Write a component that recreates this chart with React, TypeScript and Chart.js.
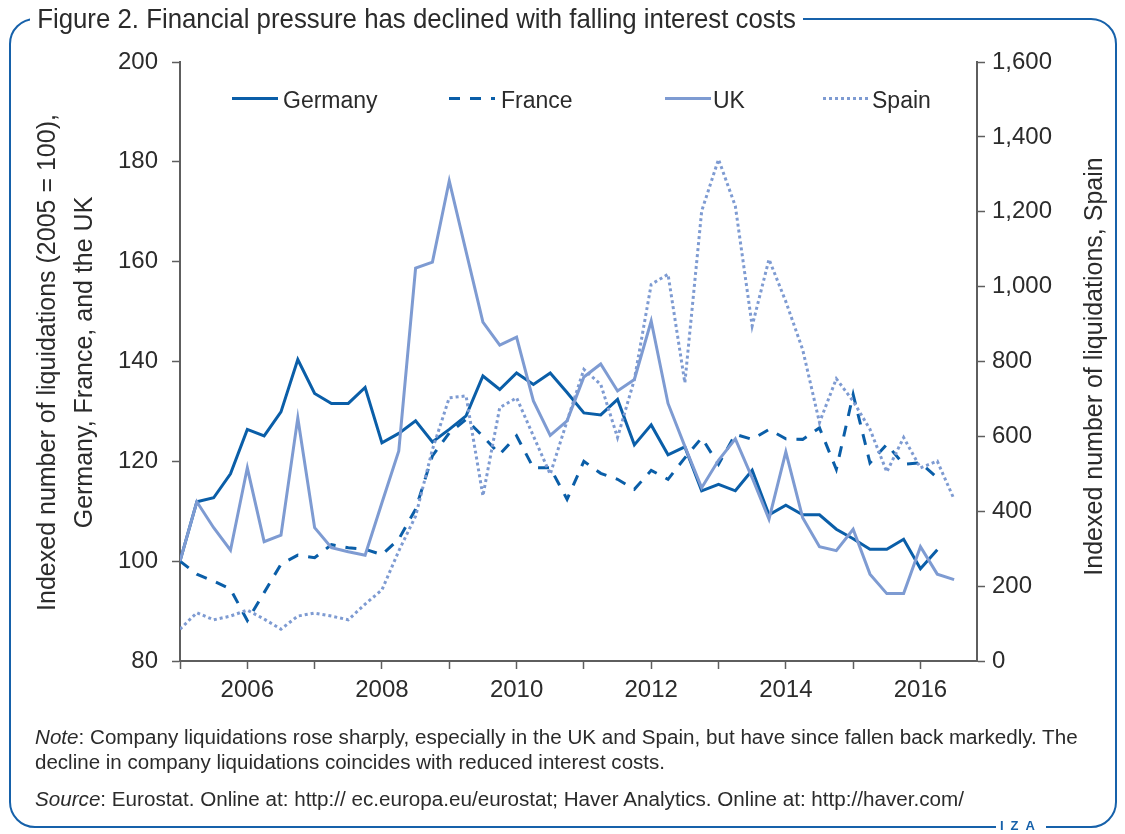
import React, { useEffect, useRef } from "react";
import { Chart, registerables } from "chart.js";
Chart.register(...registerables);

// ---------- data ----------
const quarters = [
  "2005Q1", "2005Q2", "2005Q3", "2005Q4",
  "2006Q1", "2006Q2", "2006Q3", "2006Q4",
  "2007Q1", "2007Q2", "2007Q3", "2007Q4",
  "2008Q1", "2008Q2", "2008Q3", "2008Q4",
  "2009Q1", "2009Q2", "2009Q3", "2009Q4",
  "2010Q1", "2010Q2", "2010Q3", "2010Q4",
  "2011Q1", "2011Q2", "2011Q3", "2011Q4",
  "2012Q1", "2012Q2", "2012Q3", "2012Q4",
  "2013Q1", "2013Q2", "2013Q3", "2013Q4",
  "2014Q1", "2014Q2", "2014Q3", "2014Q4",
  "2015Q1", "2015Q2", "2015Q3", "2015Q4",
  "2016Q1", "2016Q2", "2016Q3",
];

const germany = [
  100, 111.9, 112.7, 117.5, 126.4, 125.1, 129.9, 140.4, 133.6, 131.6, 131.6, 134.8,
  123.7, 125.6, 128.1, 123.9, 126.4, 129.1, 137.1, 134.4, 137.7, 135.4, 137.7, 133.8,
  129.7, 129.3, 132.4, 123.3, 127.3, 121.3, 122.9, 114.1, 115.4, 114.1, 118.2, 109.3,
  111.2, 109.3, 109.3, 106.4, 104.5, 102.4, 102.4, 104.4, 98.5, 102.3,
];

const france = [
  100, 97.4, 96.0, 94.4, 88.1, 93.7, 99.4, 101.2, 100.7, 103.3, 102.7, 102.4,
  101.3, 104.4, 110.4, 121.1, 125.7, 128.4, 125.0, 121.4, 125.1, 118.7, 118.7, 112.4,
  120.0, 117.6, 116.4, 114.4, 118.2, 116.4, 120.7, 124.7, 119.4, 125.4, 124.4, 126.4,
  124.5, 124.4, 126.7, 118.4, 133.4, 119.7, 123.4, 119.4, 119.7, 116.7,
];

const uk = [
  100, 111.9, 106.7, 102.2, 118.7, 103.9, 105.2, 128.7, 106.7, 102.7, 101.9, 101.2,
  111.7, 122.1, 158.7, 159.9, 176.2, 162.0, 147.9, 143.3, 144.9, 132.1, 125.2, 128.1,
  136.9, 139.5, 134.1, 136.4, 148.1, 131.6, 123.0, 114.7, 120.2, 124.5, 116.7, 108.4,
  121.9, 108.7, 102.9, 102.1, 106.4, 97.4, 93.5, 93.5, 102.9, 97.4, 96.3,
];

const spain = [
  85, 129, 110, 120, 136, 112, 85, 120, 128, 120, 110, 152,
  190, 294, 387, 565, 703, 708, 441, 677, 703, 601, 499, 641,
  779, 739, 597, 752, 1006, 1033, 743, 1202, 1340, 1215, 895, 1073,
  960, 832, 637, 754, 694, 619, 505, 597, 516, 534, 432,
];

const seriesLabels = ["Germany", "France", "UK", "Spain"];
const xRange = [2005, 2016.84];
const leftRange = [80, 200, 20];
const rightRange = [0, 1600, 200];
const xLabelYears = [2006, 2008, 2010, 2012, 2014, 2016];

const titleText = "Figure 2. Financial pressure has declined with falling interest costs";
const leftTitle = ["Indexed number of liquidations (2005 = 100),", "Germany, France, and the UK"];
const rightTitle = "Indexed number of liquidations, Spain";
const noteLine1 = "Company liquidations rose sharply, especially in the UK and Spain, but have since fallen back markedly. The";
const noteLine2 = "decline in company liquidations coincides with reduced interest costs.";
const sourceText = "Eurostat. Online at: http:// ec.europa.eu/eurostat; Haver Analytics. Online at: http://haver.com/";

// ---------- style ----------
const DARK = "#0a5ea8";
const LIGHT = "#7e9bd2";
const FRAME = "#1661aa";
const AXIS = "#5e5e5e";
const TEXT = "#2b2b2b";
const FONT = "'Liberation Sans', Arial, sans-serif";

const qx = (q: string) => parseInt(q.slice(0, 4), 10) + (parseInt(q.slice(5), 10) - 1) / 4;
const toPoints = (vals: number[]) => vals.map((v, i) => ({ x: qx(quarters[i]), y: v }));

const legendPos = [
  { x0: 232, x1: 278, tx: 283 },
  { x0: 449, x1: 495, tx: 501 },
  { x0: 665, x1: 711, tx: 713 },
  { x0: 823, x1: 869, tx: 872 },
];

const overlayPlugin = {
  id: "overlay",
  afterDraw(chart: any) {
    const ctx = chart.ctx as CanvasRenderingContext2D;
    // legend
    chart.data.datasets.forEach((ds: any, i: number) => {
      const p = legendPos[i];
      ctx.save();
      ctx.strokeStyle = ds.borderColor;
      ctx.lineWidth = 3;
      ctx.setLineDash(ds.borderDash || []);
      ctx.beginPath();
      ctx.moveTo(p.x0, 98.5);
      ctx.lineTo(p.x1, 98.5);
      ctx.stroke();
      ctx.setLineDash([]);
      ctx.fillStyle = TEXT;
      ctx.font = `23px ${FONT}`;
      ctx.textBaseline = "alphabetic";
      ctx.textAlign = "left";
      ctx.fillText(ds.label, p.tx, 107.5);
      ctx.restore();
    });
    // axis titles
    const area = chart.chartArea;
    const cy = (area.top + area.bottom) / 2;
    ctx.save();
    ctx.fillStyle = TEXT;
    ctx.font = `25px ${FONT}`;
    ctx.textAlign = "center";
    ctx.textBaseline = "middle";
    ctx.translate(48, cy + 1);
    ctx.rotate(-Math.PI / 2);
    ctx.fillText(leftTitle[0], 0, 0);
    ctx.fillText(leftTitle[1], 0, 37);
    ctx.restore();
    ctx.save();
    ctx.fillStyle = TEXT;
    ctx.font = `25px ${FONT}`;
    ctx.textAlign = "center";
    ctx.textBaseline = "middle";
    ctx.translate(1095, cy + 5);
    ctx.rotate(-Math.PI / 2);
    ctx.fillText(rightTitle, 0, 0);
    ctx.restore();
  },
};

let measureCtx: CanvasRenderingContext2D | null = null;
function measure(text: string, font: string) {
  if (!measureCtx) measureCtx = document.createElement("canvas").getContext("2d");
  measureCtx!.font = font;
  return measureCtx!.measureText(text).width;
}

type Seg = { text: string; italic?: boolean };
function FitLine(props: { segs: Seg[]; left: number; top: number; width: number; size: number; bg?: boolean }) {
  const { segs, left, top, width, size, bg } = props;
  const total = segs.reduce(
    (s, g) => s + measure(g.text, `${g.italic ? "italic " : ""}${size}px ${FONT}`),
    0
  );
  const sx = width / total;
  return (
    <div
      style={{
        position: "absolute",
        left,
        top,
        whiteSpace: "pre",
        fontFamily: FONT,
        fontSize: size,
        lineHeight: 1,
        color: TEXT,
        transform: `scaleX(${sx})`,
        transformOrigin: "0 0",
        background: bg ? "#fff" : "transparent",
      }}
    >
      {segs.map((g, i) => (
        <span key={i} style={{ fontStyle: g.italic ? "italic" : "normal" }}>
          {g.text}
        </span>
      ))}
    </div>
  );
}

export default function App() {
  const ref = useRef<HTMLCanvasElement>(null);
  useEffect(() => {
    if (!ref.current) return;
    const tickFont = { family: FONT, size: 24 };
    const chart = new Chart(ref.current, {
      type: "line",
      data: {
        datasets: [
          {
            label: seriesLabels[0],
            data: toPoints(germany),
            borderColor: DARK,
            borderWidth: 3,
            pointRadius: 0,
            yAxisID: "y",
            order: 3,
          },
          {
            label: seriesLabels[1],
            data: toPoints(france),
            borderColor: DARK,
            borderWidth: 3,
            borderDash: [11, 10],
            pointRadius: 0,
            yAxisID: "y",
            order: 2,
          },
          {
            label: seriesLabels[2],
            data: toPoints(uk),
            borderColor: LIGHT,
            borderWidth: 3,
            pointRadius: 0,
            yAxisID: "y",
            order: 1,
          },
          {
            label: seriesLabels[3],
            data: toPoints(spain),
            borderColor: LIGHT,
            borderWidth: 3,
            borderDash: [3, 3],
            pointRadius: 0,
            yAxisID: "y1",
            order: 0,
          },
        ],
      } as any,
      options: {
        responsive: false,
        animation: false,
        devicePixelRatio: 1,
        layout: { padding: { left: 20, right: 48, top: 62, bottom: 123 } },
        plugins: { legend: { display: false }, tooltip: { enabled: false } },
        elements: { line: { tension: 0, borderJoinStyle: "miter" } },
        scales: {
          x: {
            type: "linear",
            min: xRange[0],
            max: xRange[1],
            ticks: {
              stepSize: 1,
              includeBounds: false,
              autoSkip: false,
              maxRotation: 0,
              font: tickFont,
              color: TEXT,
              padding: 7,
              callback: (v: any) => (xLabelYears.includes(Math.round(v)) ? String(Math.round(v)) : ""),
            },
            grid: { drawOnChartArea: false, drawTicks: true, tickLength: 8, tickColor: AXIS, tickWidth: 1.5 },
            border: { color: AXIS, width: 2 },
            afterFit: (s: any) => {
              s.height = 50;
            },
          },
          y: {
            position: "left",
            min: leftRange[0],
            max: leftRange[1],
            ticks: { stepSize: leftRange[2], font: tickFont, color: TEXT, padding: 14 },
            grid: { drawOnChartArea: false, drawTicks: true, tickLength: 8, tickColor: AXIS, tickWidth: 1.5 },
            border: { color: AXIS, width: 2 },
            afterFit: (s: any) => {
              s.width = 160;
            },
          },
          y1: {
            position: "right",
            min: rightRange[0],
            max: rightRange[1],
            ticks: {
              stepSize: rightRange[2],
              font: tickFont,
              color: TEXT,
              padding: 7,
              callback: (v: any) => Number(v).toLocaleString("en-US"),
            },
            grid: { drawOnChartArea: false, drawTicks: true, tickLength: 8, tickColor: AXIS, tickWidth: 1.5 },
            border: { color: AXIS, width: 2 },
            afterFit: (s: any) => {
              s.width = 100;
            },
          },
        },
      } as any,
      plugins: [overlayPlugin],
    });
    return () => chart.destroy();
  }, []);

  return (
    <div
      style={{
        position: "absolute",
        left: 0,
        top: 0,
        width: 1125,
        height: 834,
        background: "#fff",
        overflow: "hidden",
      }}
    >
      <div
        style={{
          position: "absolute",
          left: 9,
          top: 18,
          width: 1108,
          height: 810,
          border: `2px solid ${FRAME}`,
          borderRadius: 26,
          boxSizing: "border-box",
        }}
      />
      <canvas
        ref={ref}
        width={1125}
        height={834}
        style={{ position: "absolute", left: 0, top: 0, width: 1125, height: 834 }}
      />
      <FitLine segs={[{ text: " " + titleText + " " }]} left={30} top={5} width={773} size={27.5} bg />
      <FitLine
        segs={[{ text: "Note", italic: true }, { text: ": " + noteLine1 }]}
        left={35}
        top={727}
        width={1043}
        size={20}
      />
      <FitLine segs={[{ text: noteLine2 }]} left={35} top={752} width={630} size={20} />
      <FitLine
        segs={[{ text: "Source", italic: true }, { text: ": " + sourceText }]}
        left={35}
        top={789}
        width={930}
        size={20}
      />
      <div
        style={{
          position: "absolute",
          left: 996,
          top: 819,
          padding: "0 4px",
          background: "#fff",
          color: FRAME,
          fontFamily: FONT,
          fontWeight: "bold",
          fontSize: 13,
          lineHeight: "14px",
          letterSpacing: 7,
        }}
      >
        IZA
      </div>
    </div>
  );
}
